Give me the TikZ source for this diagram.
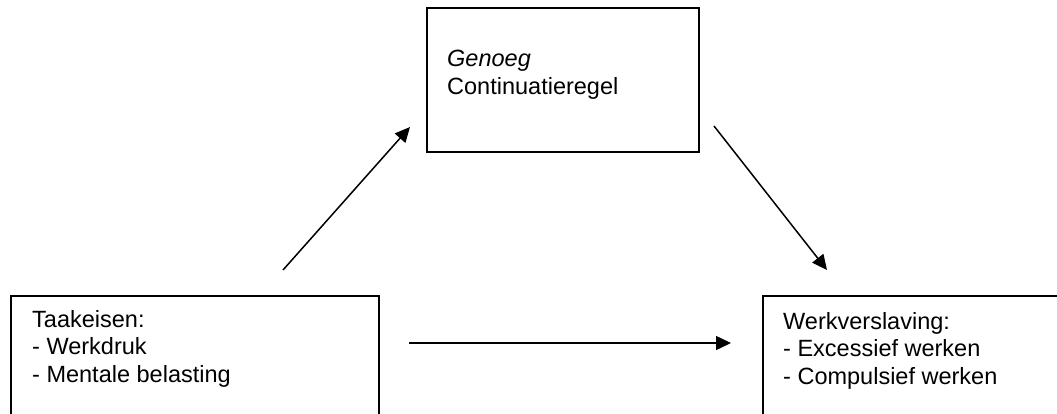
\documentclass[tikz,border=0pt]{standalone}
\usepackage{fontspec}
\setmainfont{Liberation Sans}
\usetikzlibrary{arrows.meta}
\begin{document}
\begin{tikzpicture}[x=1pt,y=-1pt,
  box/.style={draw, line width=1.8pt, inner sep=0pt, anchor=north west},
  txt/.style={anchor=base west, inner sep=0pt, font=\fontsize{23.5}{27.5}\selectfont},
  link/.style={line width=1.5pt, -{Triangle[length=15pt,width=14pt]}}]
\useasboundingbox (0,0) rectangle (1057,414);

% boxes (the lower and right ones run past the page edge)
\node[box, minimum width=368pt, minimum height=125pt] (taak) at (10,295) {};
\node[box, minimum width=272pt, minimum height=144pt] (genoeg) at (426,7) {};
\node[box, minimum width=320pt, minimum height=125pt] (werk) at (762,295) {};

% box texts
\node[txt] (taak1) at (32,327) {Taakeisen:};
\node[txt] (taak2) at (32,354.5) {- Werkdruk};
\node[txt] (taak3) at (32,382) {- Mentale belasting};

\node[txt] (gen1) at (447,67) {\itshape Genoeg};
\node[txt] (gen2) at (447,94.5) {Continuatieregel};

\node[txt] (werk1) at (783,329) {Werkverslaving:};
\node[txt] (werk2) at (783,356.5) {- Excessief werken};
\node[txt] (werk3) at (783,384) {- Compulsief werken};

% arrow end points, clear of the boxes
\coordinate (a1) at (283,270);
\coordinate (a2) at (410,127);
\coordinate (b1) at (714,126);
\coordinate (b2) at (827,270);
\coordinate (c1) at (409,343);
\coordinate (c2) at (731,343);

\draw[link] (a1) -- (a2);
\draw[link] (b1) -- (b2);
\draw[link] (c1) -- (c2);
\end{tikzpicture}
\end{document}
